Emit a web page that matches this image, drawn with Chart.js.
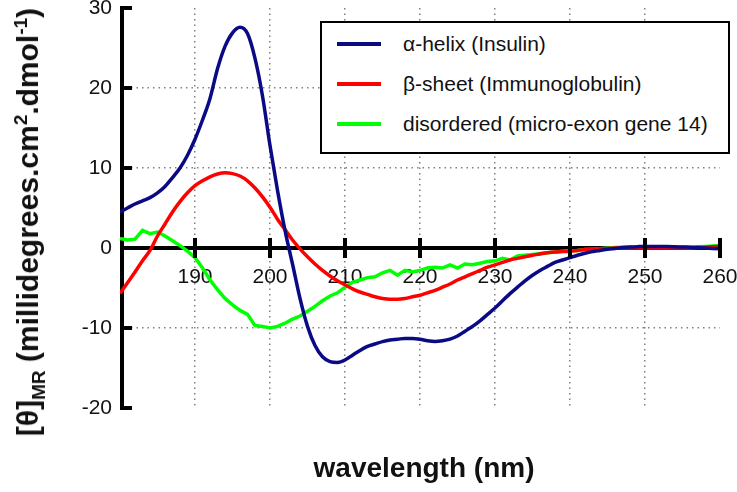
<!DOCTYPE html>
<html>
<head>
<meta charset="utf-8">
<script src="https://cdn.jsdelivr.net/npm/chart.js@4/dist/chart.umd.min.js"></script>
<style>
  html, body { margin: 0; padding: 0; background: #fff; }
  #wrap { position: relative; width: 737px; height: 492px; font-family: "Liberation Sans", Arial, sans-serif; }
  #chart { position: absolute; left: 0; top: 0; }
  #legend {
    position: absolute; left: 320px; top: 21px; width: 406px; height: 129px;
    border: 2px solid #000; background: #fff;
  }
  .entry { position: absolute; left: 0; height: 24px; line-height: 24px; font-size: 21px; color: #111; white-space: nowrap; }
  .entry .sw { position: absolute; left: 15px; top: 10px; width: 44px; height: 4px; }
  .entry .tx { position: absolute; left: 81px; top: 0; }
  #xtitle {
    position: absolute; left: 424px; top: 468px; transform: translate(-50%, -50%);
    font-weight: bold; font-size: 28px; color: #111; white-space: nowrap;
  }
  #ytitle {
    position: absolute; left: 28px; top: 222px; transform: translate(-50%, -50%) rotate(-90deg);
    font-weight: bold; font-size: 30px; color: #111; white-space: nowrap;
  }
  #ytitle sub, #ytitle sup { font-size: 19px; line-height: 0; }
</style>
</head>
<body>
<div id="wrap">
  <canvas id="chart" width="737" height="492"></canvas>
  <div id="legend"></div>
  <div id="xtitle">wavelength (nm)</div>
  <div id="ytitle">[θ]<sub>MR</sub> (millidegrees.cm<sup>2</sup>.dmol<sup>-1</sup>)</div>
</div>
<script>
// ===== Data =====
var wavelengths = [];
for (var w = 180; w <= 260; w++) wavelengths.push(w);

var helixValues = [
  4.5, 5.0, 5.5, 5.9, 6.3, 6.9, 7.7, 8.8, 10.0, 11.6,
  13.6, 16.0, 18.7, 22.4, 25.2, 26.9, 27.6, 26.8, 23.7, 19.0,
  12.8, 7.2, 2.2, -2.0, -6.3, -9.8, -12.2, -13.6, -14.2, -14.3,
  -14.0, -13.4, -12.8, -12.3, -12.0, -11.7, -11.5, -11.4, -11.3, -11.3,
  -11.4, -11.6, -11.7, -11.6, -11.4, -11.0, -10.4, -9.8, -9.1, -8.3,
  -7.5, -6.6, -5.7, -4.9, -4.1, -3.4, -2.8, -2.3, -1.8, -1.5,
  -1.2, -0.9, -0.65, -0.45, -0.3, -0.15, -0.05, 0.05, 0.12, 0.17,
  0.2, 0.2, 0.2, 0.18, 0.15, 0.12, 0.1, 0.05, 0.0, -0.05,
  -0.1
];

var sheetValues = [
  -5.7, -4.35, -3.0, -1.6, -0.3, 1.5, 3.0, 4.5, 5.8, 6.9,
  7.8, 8.4, 8.9, 9.25, 9.4, 9.3, 9.0, 8.4, 7.5, 6.4,
  5.1, 3.6, 2.3, 1.0, -0.1, -1.1, -2.0, -2.8, -3.5, -4.1,
  -4.6, -5.1, -5.5, -5.8, -6.1, -6.3, -6.4, -6.4, -6.3, -6.1,
  -5.9, -5.6, -5.3, -4.9, -4.5, -4.0, -3.6, -3.2, -2.8, -2.4,
  -2.1, -1.8, -1.5, -1.3, -1.1, -0.9, -0.75, -0.6, -0.5, -0.45,
  -0.4, -0.3, -0.2, -0.15, -0.1, -0.05, 0, 0, 0, 0,
  0, 0, 0, 0, 0, 0, 0, 0.05, 0.1, 0.15,
  0.2
];

var disorderedValues = [
  1.2, 1.0, 1.1, 2.2, 1.8, 2.0, 1.5, 0.9, 0.3, -0.4,
  -1.2, -2.5, -4.0, -5.2, -6.3, -7.1, -7.8, -8.3, -9.7, -9.8,
  -10.0, -9.8, -9.4, -8.9, -8.5, -7.9, -7.3, -6.6, -6.0, -5.6,
  -4.9, -4.3, -4.0, -3.7, -3.6, -3.1, -2.8, -3.4, -2.8, -3.0,
  -2.8, -2.5, -2.4, -2.5, -2.1, -2.5, -2.0, -2.1, -1.9, -1.7,
  -1.6, -1.3, -1.5, -1.0, -0.9, -0.8, -0.7, -0.6, -0.5, -0.4,
  -0.35, -0.3, -0.2, -0.15, -0.1, 0.0, 0.05, 0.1, 0.1, 0.1,
  0.15, 0.1, 0.15, 0.1, 0.15, 0.1, 0.1, 0.15, 0.2, 0.25,
  0.3
];

var seriesNames = ["α-helix (Insulin)", "β-sheet (Immunoglobulin)", "disordered (micro-exon gene 14)"];
var seriesColors = ["#0a0a85", "#ff0000", "#00ff00"];
var xTicks = [180, 190, 200, 210, 220, 230, 240, 250, 260];
var yTicks = [-20, -10, 0, 10, 20, 30];
var xGridAt = [190, 200, 210, 220, 230, 240, 250];
var yGridAt = [-10, 10, 20];

function toPoints(values) {
  return values.map(function(v, i) { return { x: wavelengths[i], y: v }; });
}

// ===== Legend (HTML) =====
(function() {
  var legend = document.getElementById("legend");
  var rows = [9, 49, 89];
  for (var i = 0; i < seriesNames.length; i++) {
    var e = document.createElement("div");
    e.className = "entry";
    e.style.top = rows[i] + "px";
    e.innerHTML = '<span class="sw" style="background:' + seriesColors[i] + '"></span><span class="tx"></span>';
    e.querySelector(".tx").textContent = seriesNames[i];
    legend.appendChild(e);
  }
})();

// ===== Axis lines and tick marks =====
var axesPlugin = {
  id: "axesPlugin",
  beforeDatasetsDraw: function(chart) {
    var ctx = chart.ctx, xs = chart.scales.x, ys = chart.scales.y;
    var y0 = ys.getPixelForValue(0);
    ctx.save();
    ctx.strokeStyle = "#000";
    ctx.lineWidth = 4;
    ctx.beginPath();
    ctx.moveTo(xs.left + 2, ys.getPixelForValue(30) - 2);
    ctx.lineTo(xs.left + 2, ys.getPixelForValue(-20) + 2);
    ctx.moveTo(xs.left, y0);
    ctx.lineTo(xs.right + 2, y0);
    ctx.stroke();
    yTicks.forEach(function(v) {
      if (v === 0) return;
      var py = ys.getPixelForValue(v);
      ctx.beginPath();
      ctx.moveTo(xs.left, py);
      ctx.lineTo(xs.left + 12, py);
      ctx.stroke();
    });
    ctx.restore();
  },
  afterDatasetsDraw: function(chart) {
    var ctx = chart.ctx, xs = chart.scales.x, ys = chart.scales.y;
    var y0 = ys.getPixelForValue(0);
    ctx.save();
    ctx.strokeStyle = "#000";
    ctx.lineWidth = 4;
    xTicks.forEach(function(v) {
      if (v === 180) return;
      var px = xs.getPixelForValue(v);
      ctx.beginPath();
      ctx.moveTo(px, y0 - 10);
      ctx.lineTo(px, y0 + 10);
      ctx.stroke();
    });
    ctx.restore();
  }
};

// keep tick labels from pushing the plot area around
function noPadding(s) {
  s.paddingLeft = 0; s.paddingRight = 0; s.paddingTop = 0; s.paddingBottom = 0;
}

var font = { family: "'Liberation Sans', Arial, sans-serif", size: 21 };

new Chart(document.getElementById("chart"), {
  type: "line",
  data: {
    datasets: [
      { label: seriesNames[0], data: toPoints(helixValues), borderColor: seriesColors[0] },
      { label: seriesNames[1], data: toPoints(sheetValues), borderColor: seriesColors[1] },
      { label: seriesNames[2], data: toPoints(disorderedValues), borderColor: seriesColors[2], cubicInterpolationMode: "default", tension: 0 }
    ]
  },
  options: {
    responsive: false,
    animation: false,
    devicePixelRatio: 1,
    datasets: {
      line: { borderWidth: 3.5, pointRadius: 0, cubicInterpolationMode: "monotone", fill: false }
    },
    layout: { autoPadding: false, padding: { left: 0, top: 8, right: 17, bottom: 84 } },
    plugins: { legend: { display: false }, tooltip: { enabled: false } },
    scales: {
      x: {
        type: "linear",
        position: { y: 0 },
        min: 180, max: 260,
        afterBuildTicks: function(s) { s.ticks = xTicks.map(function(v) { return { value: v }; }); },
        afterFit: noPadding,
        ticks: {
          color: "#111", font: font, padding: 17, maxRotation: 0,
          callback: function(v) { return v === 180 ? "" : v; }
        },
        grid: {
          drawTicks: false, lineWidth: 1.5,
          color: function(c) { return xGridAt.indexOf(c.tick && c.tick.value) >= 0 ? "#808080" : "rgba(0,0,0,0)"; }
        },
        border: { display: false, dash: [1.5, 4] }
      },
      y: {
        type: "linear",
        position: "left",
        min: -20, max: 30,
        afterBuildTicks: function(s) { s.ticks = yTicks.map(function(v) { return { value: v }; }); },
        afterFit: function(s) { noPadding(s); s.width = 120; },
        ticks: { color: "#111", font: font, padding: 8 },
        grid: {
          drawTicks: false, lineWidth: 1.5,
          color: function(c) { return yGridAt.indexOf(c.tick && c.tick.value) >= 0 ? "#808080" : "rgba(0,0,0,0)"; }
        },
        border: { display: false, dash: [1.5, 4] }
      }
    }
  },
  plugins: [axesPlugin]
});
</script>
</body>
</html>
